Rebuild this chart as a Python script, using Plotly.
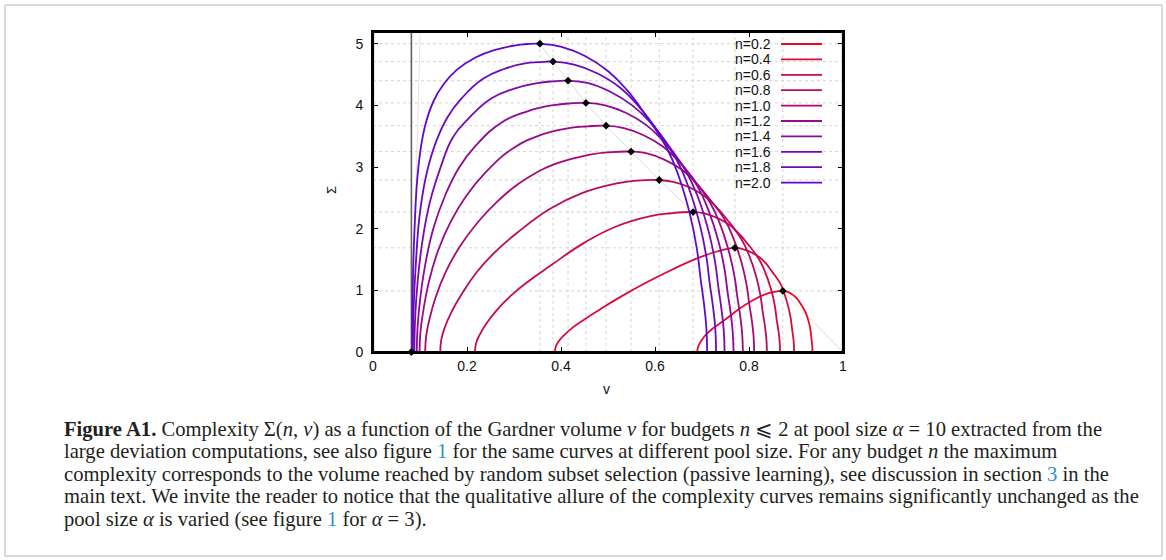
import plotly.graph_objects as go

# ---------------- data ----------------
N_LABELS = ["n=0.2", "n=0.4", "n=0.6", "n=0.8", "n=1.0", "n=1.2", "n=1.4", "n=1.6", "n=1.8", "n=2.0"]

V_02 = [0.690, 0.6909, 0.6936, 0.6991, 0.7082, 0.7209, 0.7355, 0.7537, 0.781, 0.8083, 0.8356, 0.8538, 0.872,
        0.8802, 0.889, 0.8978, 0.9048, 0.9117, 0.9199, 0.9243, 0.9287, 0.9312, 0.9325, 0.9337, 0.9347, 0.935]
S_02 = [0, 0.06, 0.12, 0.19, 0.28, 0.37, 0.45, 0.55, 0.71, 0.84, 0.94, 0.975, 0.99,
        0.98, 0.95, 0.90, 0.84, 0.76, 0.65, 0.56, 0.44, 0.33, 0.24, 0.16, 0.08, 0]

V_04 = [0.387, 0.3889, 0.3947, 0.4062, 0.4253, 0.4521, 0.4828, 0.5211, 0.5785, 0.636, 0.6934, 0.7317, 0.770,
        0.7864, 0.804, 0.8217, 0.8355, 0.8494, 0.8658, 0.8746, 0.8834, 0.8884, 0.891, 0.8935, 0.8954, 0.896]
S_04 = [0, 0.085, 0.17, 0.27, 0.40, 0.54, 0.69, 0.87, 1.115, 1.335, 1.53, 1.63, 1.69,
        1.67, 1.62, 1.54, 1.44, 1.30, 1.12, 0.96, 0.74, 0.56, 0.41, 0.27, 0.14, 0]

V_06 = [0.217, 0.2193, 0.2263, 0.2402, 0.2634, 0.2959, 0.333, 0.3794, 0.449, 0.5186, 0.5882, 0.6346, 0.681,
        0.7051, 0.731, 0.7569, 0.7772, 0.7976, 0.8216, 0.8346, 0.8475, 0.8549, 0.8586, 0.8623, 0.8651, 0.866]
S_06 = [0, 0.14, 0.27, 0.45, 0.68, 0.93, 1.16, 1.41, 1.77, 2.04, 2.20, 2.25, 2.27,
        2.25, 2.18, 2.07, 1.93, 1.75, 1.50, 1.29, 1.00, 0.75, 0.54, 0.36, 0.18, 0]

V_08 = [0.143, 0.1453, 0.1523, 0.1663, 0.1896, 0.2222, 0.2595, 0.3061, 0.376, 0.4459, 0.5158, 0.5624, 0.609,
        0.6388, 0.6708, 0.7029, 0.7281, 0.7533, 0.783, 0.7991, 0.8151, 0.8243, 0.8288, 0.8334, 0.8369, 0.838]
S_08 = [0, 0.20, 0.39, 0.64, 0.95, 1.31, 1.62, 1.93, 2.32, 2.58, 2.73, 2.78, 2.79,
        2.76, 2.68, 2.54, 2.37, 2.15, 1.84, 1.59, 1.23, 0.92, 0.67, 0.45, 0.22, 0]

V_10 = [0.111, 0.1132, 0.1198, 0.1329, 0.1548, 0.1855, 0.2205, 0.2643, 0.330, 0.3957, 0.4614, 0.5052, 0.549,
        0.5831, 0.6197, 0.6564, 0.6852, 0.7141, 0.7481, 0.7665, 0.7848, 0.7953, 0.8005, 0.8058, 0.8097, 0.811]
S_10 = [0, 0.26, 0.52, 0.88, 1.30, 1.72, 2.08, 2.44, 2.83, 3.07, 3.20, 3.24, 3.25,
        3.22, 3.12, 2.96, 2.76, 2.50, 2.15, 1.85, 1.43, 1.07, 0.78, 0.52, 0.26, 0]

V_12 = [0.099, 0.101, 0.1069, 0.1189, 0.1387, 0.1665, 0.1983, 0.238, 0.2975, 0.357, 0.4166, 0.4563, 0.496,
        0.5338, 0.5746, 0.6153, 0.6473, 0.6793, 0.7172, 0.7375, 0.7579, 0.7695, 0.7754, 0.7812, 0.7855, 0.787]
S_12 = [0, 0.33, 0.66, 1.14, 1.65, 2.13, 2.53, 2.90, 3.30, 3.52, 3.63, 3.66, 3.67,
        3.63, 3.52, 3.34, 3.12, 2.83, 2.42, 2.09, 1.61, 1.21, 0.88, 0.59, 0.29, 0]

V_14 = [0.093, 0.0948, 0.1002, 0.111, 0.129, 0.1542, 0.183, 0.219, 0.273, 0.327, 0.381, 0.417, 0.453,
        0.4938, 0.5378, 0.5817, 0.6163, 0.6508, 0.6916, 0.7136, 0.7356, 0.7482, 0.7544, 0.7607, 0.7654, 0.767]
S_14 = [0, 0.40, 0.85, 1.41, 2.02, 2.55, 2.99, 3.35, 3.72, 3.90, 4.00, 4.03, 4.04,
        4.00, 3.88, 3.68, 3.43, 3.11, 2.67, 2.30, 1.78, 1.33, 0.97, 0.65, 0.32, 0]

V_16 = [0.088, 0.0896, 0.0945, 0.1044, 0.1207, 0.1436, 0.1698, 0.2025, 0.2515, 0.3006, 0.3496, 0.3823, 0.415,
        0.4583, 0.5049, 0.5515, 0.5882, 0.6248, 0.6681, 0.6914, 0.7147, 0.728, 0.7347, 0.7413, 0.7463, 0.748]
S_16 = [0, 0.53, 1.10, 1.76, 2.42, 2.99, 3.48, 3.78, 4.11, 4.27, 4.36, 4.39, 4.40,
        4.36, 4.22, 4.00, 3.74, 3.39, 2.90, 2.51, 1.94, 1.45, 1.06, 0.70, 0.35, 0]

V_18 = [0.085, 0.0865, 0.091, 0.0999, 0.1148, 0.1357, 0.1595, 0.1893, 0.234, 0.2787, 0.3234, 0.3532, 0.383,
        0.4281, 0.4767, 0.5253, 0.5634, 0.6016, 0.6467, 0.671, 0.6953, 0.7092, 0.7161, 0.7231, 0.7283, 0.730]
S_18 = [0, 0.71, 1.41, 2.26, 2.92, 3.44, 3.82, 4.12, 4.43, 4.59, 4.68, 4.70, 4.71,
        4.66, 4.52, 4.29, 4.00, 3.63, 3.11, 2.68, 2.07, 1.55, 1.13, 0.75, 0.38, 0]

V_20 = [0.083, 0.0844, 0.0884, 0.0966, 0.1102, 0.1292, 0.151, 0.1782, 0.219, 0.2598, 0.3006, 0.3278, 0.355,
        0.4013, 0.4511, 0.501, 0.5401, 0.5793, 0.6256, 0.6505, 0.6754, 0.6896, 0.6968, 0.7039, 0.7092, 0.711]
S_20 = [0, 1.00, 2.00, 3.00, 3.65, 4.075, 4.35, 4.575, 4.78, 4.90, 4.97, 4.995, 5.00,
        4.95, 4.80, 4.55, 4.25, 3.85, 3.30, 2.85, 2.20, 1.65, 1.20, 0.80, 0.40, 0]

PEAK_V = [0.872, 0.770, 0.681, 0.609, 0.549, 0.496, 0.453, 0.415, 0.383, 0.355]
PEAK_S = [0.99, 1.69, 2.27, 2.79, 3.25, 3.67, 4.04, 4.40, 4.71, 5.00]

V_MIN = 0.0817                      # minimal volume (dark vertical line)
LOCUS_V = [1.0] + PEAK_V             # faint line through the maxima
LOCUS_S = [0.0] + PEAK_S
FAINT_V = [0.0817, 0.1005]           # faint near-vertical line at the top left
FAINT_S = [0.0, 5.19]

X_TICKS = [0, 0.2, 0.4, 0.6, 0.8, 1.0]
X_TICKTEXT = ["0", "0.2", "0.4", "0.6", "0.8", "1"]
Y_TICKS = [0, 1, 2, 3, 4, 5]
Y_TICKTEXT = ["0", "1", "2", "3", "4", "5"]

CAPTION = [
    "<b>Figure A1.</b> Complexity Σ(<i>n</i>, <i>v</i>) as a function of the Gardner volume <i>v</i> for budgets <i>n</i> ⩽ 2 at pool size <i>α</i> = 10 extracted from the",
    "large deviation computations, see also figure <span style='color:#2e8fd0'>1</span> for the same curves at different pool size. For any budget <i>n</i> the maximum",
    "complexity corresponds to the volume reached by random subset selection (passive learning), see discussion in section <span style='color:#2e8fd0'>3</span> in the",
    "main text. We invite the reader to notice that the qualitative allure of the complexity curves remains significantly unchanged as the",
    "pool size <i>α</i> is varied (see figure <span style='color:#2e8fd0'>1</span> for <i>α</i> = 3).",
]

# ---------------- style ----------------
COLORS = ["#e80a2a", "#d90a3c", "#ca0a4e", "#ba0a60", "#ab0a72", "#9b0a84",
          "#8c0a96", "#7c0aa8", "#6c0aba", "#5d0acc"]
CURVES = [(V_02, S_02), (V_04, S_04), (V_06, S_06), (V_08, S_08), (V_10, S_10),
          (V_12, S_12), (V_14, S_14), (V_16, S_16), (V_18, S_18), (V_20, S_20)]

W, H = 1166, 560
L, R, T, B = 373, 843, 32, 352   # plot area in pixels
YMAX = 5.19


def px_x(px):
    return (px - L) / (R - L)


def px_y(py):
    return (B - py) / (B - T)


fig = go.Figure()

fig.add_trace(go.Scatter(x=LOCUS_V, y=LOCUS_S, mode="lines", line=dict(color="#dcdcdc", width=1),
                         hoverinfo="skip", showlegend=False))
fig.add_trace(go.Scatter(x=FAINT_V, y=FAINT_S, mode="lines", line=dict(color="#e2e2e2", width=1),
                         hoverinfo="skip", showlegend=False))
fig.add_trace(go.Scatter(x=[V_MIN, V_MIN], y=[0, YMAX], mode="lines",
                         line=dict(color="#606060", width=1.6), hoverinfo="skip", showlegend=False))

for (vx, sy), col, name in zip(CURVES, COLORS, N_LABELS):
    fig.add_trace(go.Scatter(x=vx, y=sy, mode="lines", name=name,
                             line=dict(color=col, width=1.8, shape="spline", smoothing=1.3),
                             showlegend=False))

fig.add_trace(go.Scatter(x=PEAK_V, y=PEAK_S, mode="markers",
                         marker=dict(symbol="diamond", size=6, color="black"),
                         showlegend=False, hoverinfo="skip"))
fig.add_trace(go.Scatter(x=[V_MIN], y=[0], mode="markers",
                         marker=dict(symbol="diamond", size=6, color="black"),
                         showlegend=False, hoverinfo="skip", cliponaxis=False))

shapes = []
for pv in PEAK_V:
    shapes.append(dict(type="line", xref="x", yref="y", x0=pv, x1=pv, y0=0, y1=YMAX,
                       line=dict(color="#d4d4d4", width=1, dash="dot"), layer="below"))
for ps in PEAK_S:
    shapes.append(dict(type="line", xref="x", yref="y", x0=0, x1=1, y0=ps, y1=ps,
                       line=dict(color="#d4d4d4", width=1, dash="dot"), layer="below"))

# page frame
fl, fr, ft, fb = 5, 1162, 5, 556
shapes.append(dict(type="rect", xref="paper", yref="paper",
                   x0=px_x(fl), x1=px_x(fr), y0=px_y(fb), y1=px_y(ft),
                   line=dict(color="#b4b4b4", width=1), layer="below"))

# plot frame (drawn explicitly, above the data)
shapes.append(dict(type="rect", xref="paper", yref="paper", x0=0, x1=1, y0=0, y1=1,
                   line=dict(color="black", width=2.2), layer="above"))

annotations = []
for i, (name, col) in enumerate(zip(N_LABELS, COLORS)):
    yv = px_y(44 + i * 15.4)
    annotations.append(dict(xref="paper", yref="paper", x=px_x(773), y=yv, text=name,
                            showarrow=False, xanchor="right", yanchor="middle",
                            font=dict(family="Liberation Sans", size=14, color="#111")))
    shapes.append(dict(type="line", xref="paper", yref="paper", x0=px_x(781), x1=px_x(822),
                       y0=yv, y1=yv, line=dict(color=col, width=1.8)))

annotations.append(dict(xref="paper", yref="paper", x=px_x(606), y=px_y(389), text="v",
                        showarrow=False, xanchor="center", yanchor="middle",
                        font=dict(family="Liberation Sans", size=14, color="#111")))
annotations.append(dict(xref="paper", yref="paper", x=px_x(331), y=px_y(190), text="Σ",
                        showarrow=False, xanchor="center", yanchor="middle", textangle=-90,
                        font=dict(family="Liberation Sans", size=13, color="#111")))

for i, line in enumerate(CAPTION):
    annotations.append(dict(xref="paper", yref="paper", x=px_x(62), y=px_y(429 + i * 22.6),
                            text=line, showarrow=False, xanchor="left", yanchor="middle",
                            align="left",
                            font=dict(family="Liberation Serif", size=20.6, color="#231f20")))

axis_common = dict(showline=True, linecolor="black", linewidth=2, mirror="ticks",
                   ticks="inside", ticklen=5, tickwidth=1, tickcolor="black",
                   showgrid=False, zeroline=False,
                   tickfont=dict(family="Liberation Sans", size=14, color="#111"))

fig.update_layout(
    width=W, height=H,
    margin=dict(l=L, r=W - R, t=T, b=H - B, autoexpand=False),
    paper_bgcolor="white", plot_bgcolor="white",
    xaxis=dict(range=[0, 1], tickmode="array", tickvals=X_TICKS, ticktext=X_TICKTEXT, **axis_common),
    yaxis=dict(range=[0, YMAX], tickmode="array", tickvals=Y_TICKS, ticktext=Y_TICKTEXT,
               ticklabelstandoff=5, **axis_common),
    shapes=shapes, annotations=annotations, showlegend=False,
)

fig.write_html("out.html", config={"displayModeBar": False},
               post_script="document.body.style.margin='0px';")
